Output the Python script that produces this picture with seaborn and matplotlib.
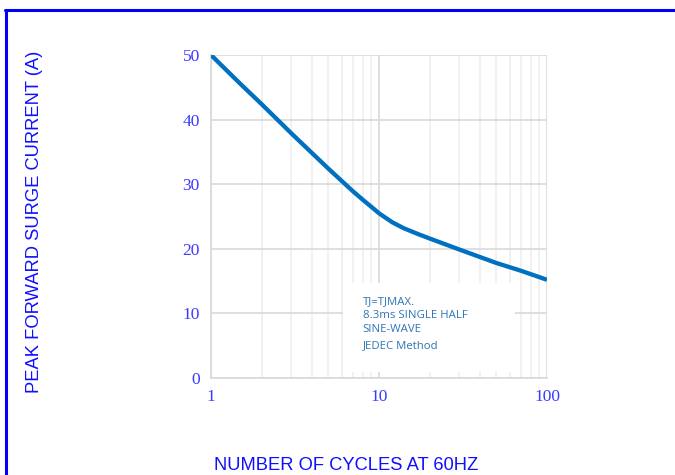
import matplotlib
matplotlib.use("Agg")
import matplotlib.pyplot as plt
from matplotlib.lines import Line2D
from matplotlib.patches import Rectangle
from matplotlib.ticker import FixedLocator, NullFormatter
import seaborn as sns
import pandas as pd

# DATA
cycles = [1, 1.5, 2, 3, 4, 5, 6, 7, 8, 9, 10, 12, 14, 17, 20, 30, 50, 70, 100]
current = [50, 45.5, 42.4, 37.9, 34.8, 32.4, 30.5, 28.9, 27.6, 26.5, 25.5, 24.1,
           23.2, 22.3, 21.6, 19.9, 17.8, 16.6, 15.2]
x_ticks = [1, 10, 100]
y_ticks = [0, 10, 20, 30, 40, 50]
note_lines = ["TJ=TJMAX.", "8.3ms SINGLE HALF", "SINE-WAVE", "JEDEC Method"]

df = pd.DataFrame({"cycles": cycles, "current": current})

sns.set_style("white")
fig = plt.figure(figsize=(6.75, 4.75), dpi=100)
ax = fig.add_axes([0.3126, 0.2042, 0.4978, 0.68])

sns.lineplot(data=df, x="cycles", y="current", ax=ax, color="#0070C0",
             linewidth=3.1, solid_capstyle="butt", solid_joinstyle="round", zorder=5)

ax.set_xscale("log")
ax.set_xlim(1, 100)
ax.set_ylim(0, 50)
ax.xaxis.set_major_locator(FixedLocator(x_ticks))
ax.xaxis.set_minor_locator(FixedLocator([m * d for d in (1, 10) for m in range(2, 10)]))
ax.xaxis.set_minor_formatter(NullFormatter())
ax.set_xticks(x_ticks)
ax.set_xticklabels([str(t) for t in x_ticks])
ax.set_yticks(y_ticks)

ax.grid(which="major", color="#d9d9d9", linewidth=1.2)
ax.grid(which="minor", axis="x", color="#efefef", linewidth=1.2)
ax.set_axisbelow(True)
for s in ["top", "right"]:
    ax.spines[s].set_visible(False)
for s in ["left", "bottom"]:
    ax.spines[s].set_color("#d9d9d9")
    ax.spines[s].set_linewidth(1.2)

ax.tick_params(axis="both", which="both", length=0, labelsize=12.5,
               labelcolor="#3a3aff", pad=8)
for lab in ax.get_xticklabels() + ax.get_yticklabels():
    lab.set_fontfamily("Liberation Serif")

ax.set_xlabel("")
ax.set_ylabel("")

# axis titles
fig.text(346 / 675, 1 - 465 / 475, "NUMBER OF CYCLES AT 60HZ", ha="center", va="center",
         color="#1010ff", fontsize=13.2, family="Liberation Sans")
fig.text(35 / 675, 1 - 222 / 475, "PEAK FORWARD SURGE CURRENT (A)", ha="center", va="center",
         rotation=90, color="#1010ff", fontsize=13.2, family="Liberation Sans")

# note box
ax.add_patch(Rectangle((0.393, 0.019), 0.512, 0.275, transform=ax.transAxes,
                       facecolor="white", edgecolor="none", zorder=6))
note_y = [0.235, 0.192, 0.149, 0.099]
for txt, yy in zip(note_lines, note_y):
    ax.text(0.451, yy, txt, transform=ax.transAxes, ha="left", va="center",
            fontsize=8.2, color="#2E75B6", family="Open Sans", zorder=8)

# blue frame (top and left edges)
fig.add_artist(Line2D([5 / 675, 1], [1 - 10 / 475, 1 - 10 / 475], transform=fig.transFigure,
                      color="#0000ff", linewidth=2.2))
fig.add_artist(Line2D([6 / 675, 6 / 675], [0, 1 - 10 / 475], transform=fig.transFigure,
                      color="#0000ff", linewidth=2.2))

fig.savefig("out.png", dpi=100)
